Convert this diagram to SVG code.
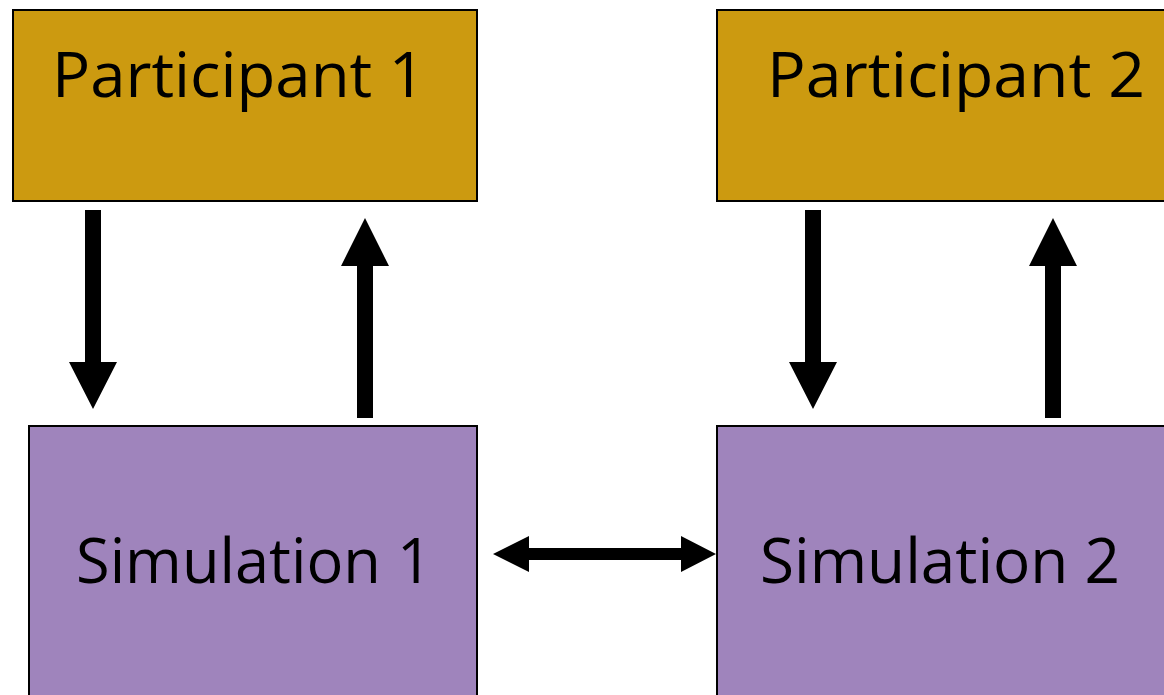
<svg xmlns="http://www.w3.org/2000/svg" width="1164" height="695" viewBox="0 0 1164 695">
  <style>
    .participant { fill: #CC9A10; stroke: #000; stroke-width: 2; }
    .simulation { fill: #9F84BC; stroke: #000; stroke-width: 2; }
    .label { font-family: "Open Sans", "Liberation Sans", sans-serif; font-size: 62px; fill: #000; }
    .arrow { fill: #000; stroke: none; }
  </style>
  <rect width="1164" height="695" fill="#fff"/>

  <g id="participant1">
    <rect class="participant" x="13" y="10" width="464" height="191"/>
    <text class="label" x="52" y="97" textLength="373" lengthAdjust="spacingAndGlyphs">Participant 1</text>
  </g>
  <g id="participant2">
    <rect class="participant" x="717" y="10" width="460" height="191"/>
    <text class="label" x="767" y="97" textLength="378" lengthAdjust="spacingAndGlyphs">Participant 2</text>
  </g>
  <g id="simulation1">
    <rect class="simulation" x="29" y="426" width="448" height="280"/>
    <text class="label" x="76" y="583" textLength="356" lengthAdjust="spacingAndGlyphs">Simulation 1</text>
  </g>
  <g id="simulation2">
    <rect class="simulation" x="717" y="426" width="460" height="280"/>
    <text class="label" x="760" y="583" textLength="360" lengthAdjust="spacingAndGlyphs">Simulation 2</text>
  </g>

  <g id="connectors">
    <!-- participant 1 to simulation 1 -->
    <path class="arrow" d="M85,210 H101 V362 H117 L93,409 L69,362 H85 Z"/>
    <!-- simulation 1 to participant 1 -->
    <path class="arrow" d="M357,418 H373 V266 H389 L365,218 L341,266 H357 Z"/>
    <!-- participant 2 to simulation 2 -->
    <path class="arrow" d="M805,210 H821 V362 H837 L813,409 L789,362 H805 Z"/>
    <!-- simulation 2 to participant 2 -->
    <path class="arrow" d="M1045,418 H1061 V266 H1077 L1053,218 L1029,266 H1045 Z"/>
    <!-- simulation 1 and simulation 2 -->
    <path class="arrow" d="M493,554 L529,536 V548 H681 V536 L716,554 L681,572 V560 H529 V572 Z"/>
  </g>
</svg>
